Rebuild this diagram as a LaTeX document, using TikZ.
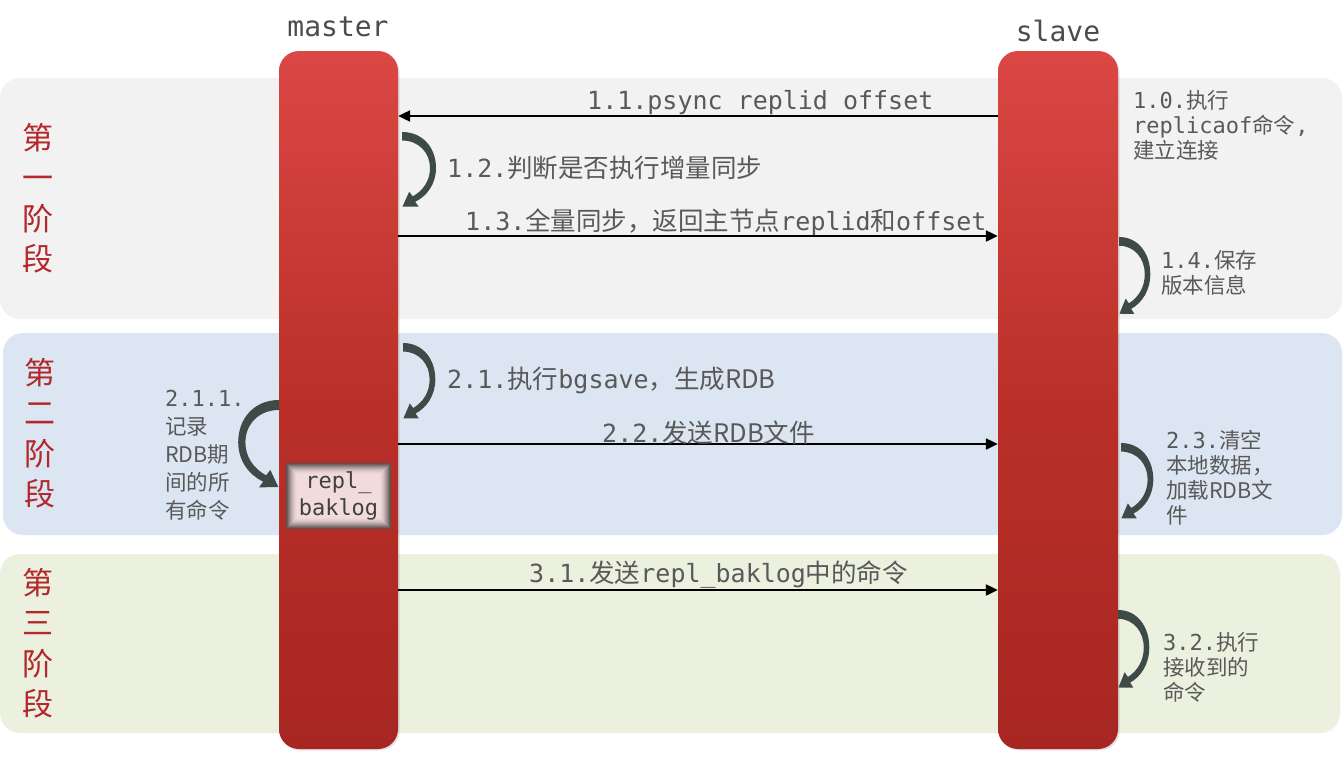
\documentclass[tikz,border=0pt]{standalone}
\usepackage{fontspec}
\setmonofont{DejaVu Sans Mono}
\newfontfamily\cjk{Noto Sans CJK SC}
\usetikzlibrary{arrows.meta,shadows}

\definecolor{txtgray}{HTML}{595959}
\definecolor{bandA}{HTML}{F2F2F2}
\definecolor{bandB}{HTML}{DCE6F2}
\definecolor{bandC}{HTML}{EBF1DE}
\definecolor{stagered}{HTML}{B3282B}
\definecolor{bartop}{HTML}{DB4744}
\definecolor{barmid}{HTML}{BA3029}
\definecolor{barbot}{HTML}{A82622}
\definecolor{curvecol}{HTML}{3E4A48}
\definecolor{pinkfill}{HTML}{F2DCDB}
\definecolor{edgecol}{HTML}{5A4E4E}
\definecolor{darktext}{HTML}{404040}

\newcommand\zhL[1]{{\cjk\fontsize{25.5}{25.5}\selectfont #1}}
\newcommand\zhS[1]{{\cjk\fontsize{21.5}{21.5}\selectfont #1}}

% curved self-arrow: #1 shift, #2 xscale, #3 yscale
\newcommand\bendarrow[3]{%
  \begin{scope}[shift={#1},xscale=#2,yscale=#3]
    \fill[curvecol] (0,0) .. controls (21,0) and (34,16) .. (34,36)
      .. controls (34,52) and (25,64) .. (13.2,69.8) -- (16.6,74.6) -- (0.5,74.5)
      -- (7.2,59.8) -- (10.8,64.4) .. controls (21,58.5) and (28,49) .. (28,36)
      .. controls (28,21) and (17,8.5) .. (0,8.5) -- cycle;
  \end{scope}}

\begin{document}
\begin{tikzpicture}[x=1pt,y=-1pt,
  bar/.style={rounded corners=20pt, minimum width=119pt, minimum height=698pt,
    inner sep=0pt, top color=bartop, bottom color=barbot, middle color=barmid,
    drop shadow={opacity=0.22,shadow xshift=1.5pt,shadow yshift=-1.5pt}},
  actor/.style={text=txtgray!85!black, font=\ttfamily\fontsize{28}{28}\selectfont, inner sep=0pt},
  stage/.style={text=stagered, align=center, inner sep=0pt, font=\cjk\fontsize{31}{40.5}\selectfont},
  msg/.style={draw=black, line width=2.2pt, -{Triangle[length=12pt,width=11pt]}},
  biglabel/.style={anchor=base west, inner sep=0pt, text=txtgray, font=\ttfamily\fontsize{25}{26}\selectfont},
  smalllabel/.style={anchor=west, inner sep=0pt, align=left, text=txtgray, font=\ttfamily\fontsize{22}{25}\selectfont},
  baklogbox/.style={minimum width=105pt, minimum height=66pt, inner sep=0pt, align=center,
    fill=edgecol, text=darktext, font=\ttfamily\fontsize{22}{27}\selectfont,
    path picture={
      \foreach \i/\p in {1/12,2/25,3/38,4/50,5/61,6/71,7/80,8/87,9/93,10/97,11/100}
        \fill[pinkfill!\p!edgecol] ([xshift=\i pt,yshift=-\i pt]path picture bounding box.north west)
          rectangle ([xshift=-\i pt,yshift=\i pt]path picture bounding box.south east);
    }}
]
\useasboundingbox (0,0) rectangle (1343,761);
\fill[white] (0,0) rectangle (1343,761);

% bands
\fill[bandA, rounded corners=20pt] (0,78) rectangle (1342,319);
\fill[bandB, rounded corners=20pt] (3,333) rectangle (1342,535);
\fill[bandC, rounded corners=20pt] (0,554) rectangle (1340,733);

% stage titles
\node[stage] (s1) at (38,198) {第\\一\\阶\\段};
\node[stage] (s2) at (40,433) {第\\二\\阶\\段};
\node[stage] (s3) at (38,643) {第\\三\\阶\\段};

% actors
\node[bar] (master) at (338.5,400) {};
\node[bar, minimum width=120pt] (slave) at (1058,400) {};
\node[actor] (mname) at (338,27) {master};
\node[actor] (sname) at (1058,31) {slave};

% repl_baklog
\node[baklogbox] (baklog) at (338.5,496) {repl\_\\baklog};

% row coordinates
\coordinate (r11) at (0,116);
\coordinate (r13) at (0,236);
\coordinate (r22) at (0,444);
\coordinate (r31) at (0,590);

% messages
\draw[msg] (slave.west |- r11) -- (master.east |- r11);
\draw[msg] (master.east |- r13) -- (slave.west |- r13);
\draw[msg, xshift=4pt] (master.east |- r22) -- (slave.west |- r22);
\draw[msg] (master.east |- r31) -- (slave.west |- r31);

\node[biglabel] (l11) at (587,109) {1.1.psync replid offset};
\node[biglabel] (l12) at (447,177) {1.2.\zhL{判断是否执行增量同步}};
\node[biglabel] (l13) at (465,230) {1.3.\zhL{全量同步，返回主节点}replid\zhL{和}offset};
\node[biglabel] (l21) at (447,388) {2.1.\zhL{执行}bgsave\zhL{，生成RDB}};
\node[biglabel] (l22) at (602,442) {2.2.\zhL{发送RDB文件}};
\node[biglabel] (l31) at (529,582) {3.1.\zhL{发送}repl\_baklog\zhL{中的命令}};

% self actions
\bendarrow{(402,132)}{1}{1}
\bendarrow{(1119,237)}{0.92}{1.03}
\bendarrow{(403,343)}{0.95}{1.01}
\bendarrow{(1121,443)}{0.95}{1.01}
\bendarrow{(1118,610)}{0.92}{1.04}
\bendarrow{(279,400)}{-1.2}{1.17}

\node[smalllabel] (l10) at (1133,125) {1.0.\zhS{执行}\\replicaof\zhS{命令},\\\zhS{建立连接}};
\node[smalllabel] (l14) at (1161,272.5) {1.4.\zhS{保存}\\\zhS{版本信息}};
\node[smalllabel] (l23) at (1166,478) {2.3.\zhS{清空}\\\zhS{本地数据，}\\\zhS{加载RDB文}\\\zhS{件}};
\node[smalllabel] (l32) at (1163,667) {3.2.\zhS{执行}\\\zhS{接收到的}\\\zhS{命令}};
\node[smalllabel, font=\ttfamily\fontsize{22}{28}\selectfont] (l211) at (165,455) {2.1.1.\\\zhS{记录}\\\zhS{RDB期}\\\zhS{间的所}\\\zhS{有命令}};
\end{tikzpicture}
\end{document}
